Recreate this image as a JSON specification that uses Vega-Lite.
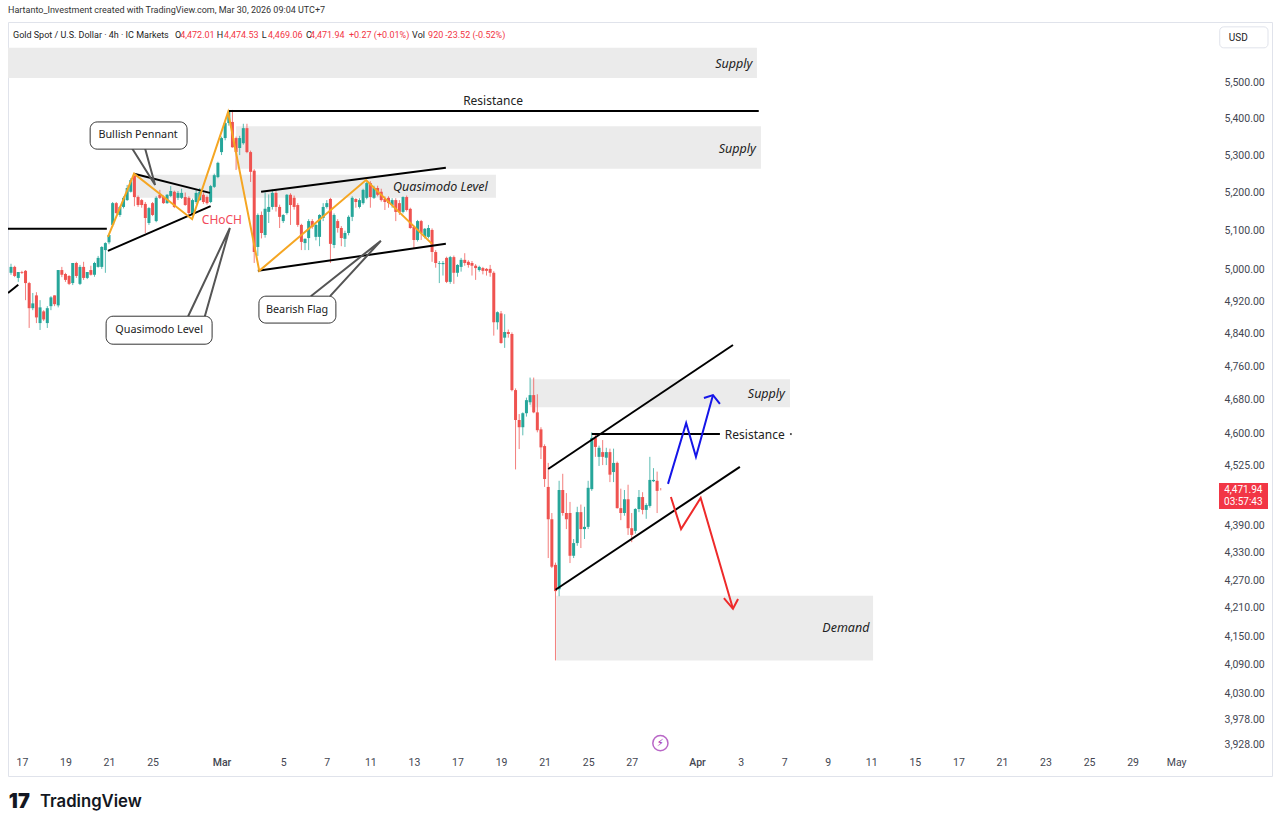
{
"$schema":"https://vega.github.io/schema/vega-lite/v6.json",
"width":1264,"height":754,
"autosize":"none",
"padding":{"left":8,"top":22,"right":8,"bottom":50},
"background":"white",
"config":{"view":{"stroke":"#e0e3eb"},"font":"Noto Sans"},
"title":{"text":"Hartanto_Investment created with TradingView.com, Mar 30, 2026 09:04 UTC+7","anchor":"start","frame":"group","fontSize":9,"fontWeight":"normal","font":"Roboto","color":"#333333","offset":7},
"datasets":{
"candles":[
{"t":0,"o":4992,"h":5015,"l":4987,"c":5007},{"t":1,"o":5007,"h":5010,"l":4981,"c":4984},{"t":2,"o":4979,"h":4994,"l":4969,"c":4994},{"t":3,"o":4994,"h":4997,"l":4989,"c":4992},
{"t":4,"o":4997,"h":4999,"l":4923,"c":4966},{"t":5,"o":4966,"h":4969,"l":4854,"c":4903},{"t":6,"o":4903,"h":4941,"l":4898,"c":4915},{"t":7,"o":4935,"h":4943,"l":4866,"c":4880},
{"t":8,"o":4866,"h":4923,"l":4849,"c":4905},{"t":9,"o":4895,"h":4898,"l":4871,"c":4875},{"t":10,"o":4866,"h":4908,"l":4854,"c":4903},{"t":11,"o":4908,"h":4933,"l":4898,"c":4930},
{"t":12,"o":4935,"h":4935,"l":4908,"c":4913},{"t":13,"o":4910,"h":4999,"l":4905,"c":4999},{"t":14,"o":4999,"h":5007,"l":4981,"c":4987},{"t":15,"o":4989,"h":4992,"l":4969,"c":4974},
{"t":16,"o":4984,"h":4986,"l":4961,"c":4964},{"t":17,"o":4966,"h":5017,"l":4961,"c":5017},{"t":18,"o":5017,"h":5020,"l":4979,"c":4984},{"t":19,"o":4964,"h":5012,"l":4961,"c":5007},
{"t":20,"o":5007,"h":5020,"l":4974,"c":4979},{"t":21,"o":4979,"h":4994,"l":4976,"c":4994},{"t":22,"o":4999,"h":5010,"l":4985,"c":4987},{"t":23,"o":4987,"h":5020,"l":4982,"c":5017},
{"t":24,"o":5007,"h":5035,"l":5005,"c":5030},{"t":25,"o":5007,"h":5060,"l":5002,"c":5058},{"t":26,"o":5050,"h":5070,"l":4992,"c":5068},{"t":27,"o":5070,"h":5092,"l":5065,"c":5089},
{"t":28,"o":5115,"h":5175,"l":5110,"c":5172},{"t":29,"o":5172,"h":5175,"l":5143,"c":5146},{"t":30,"o":5141,"h":5165,"l":5136,"c":5162},{"t":31,"o":5162,"h":5190,"l":5158,"c":5186},
{"t":32,"o":5180,"h":5220,"l":5178,"c":5212},{"t":33,"o":5202,"h":5238,"l":5200,"c":5233},{"t":34,"o":5244,"h":5246,"l":5164,"c":5188},{"t":35,"o":5188,"h":5192,"l":5162,"c":5167},
{"t":36,"o":5180,"h":5183,"l":5160,"c":5167},{"t":37,"o":5170,"h":5175,"l":5094,"c":5133},{"t":38,"o":5120,"h":5162,"l":5115,"c":5159},{"t":39,"o":5172,"h":5175,"l":5138,"c":5141},
{"t":40,"o":5125,"h":5190,"l":5122,"c":5186},{"t":41,"o":5194,"h":5207,"l":5183,"c":5186},{"t":42,"o":5188,"h":5192,"l":5170,"c":5172},{"t":43,"o":5172,"h":5196,"l":5170,"c":5194},
{"t":44,"o":5191,"h":5217,"l":5188,"c":5204},{"t":45,"o":5202,"h":5205,"l":5159,"c":5162},{"t":46,"o":5186,"h":5204,"l":5180,"c":5199},{"t":47,"o":5186,"h":5210,"l":5183,"c":5199},
{"t":48,"o":5188,"h":5200,"l":5165,"c":5167},{"t":49,"o":5186,"h":5190,"l":5136,"c":5146},{"t":50,"o":5141,"h":5184,"l":5128,"c":5180},{"t":51,"o":5175,"h":5207,"l":5170,"c":5199},
{"t":52,"o":5180,"h":5212,"l":5178,"c":5202},{"t":53,"o":5194,"h":5200,"l":5170,"c":5175},{"t":54,"o":5188,"h":5192,"l":5168,"c":5172},{"t":55,"o":5175,"h":5220,"l":5172,"c":5217},
{"t":56,"o":5215,"h":5250,"l":5212,"c":5246},{"t":57,"o":5241,"h":5282,"l":5238,"c":5279},{"t":58,"o":5308,"h":5350,"l":5300,"c":5346},{"t":59,"o":5346,"h":5390,"l":5340,"c":5387},
{"t":60,"o":5387,"h":5423,"l":5380,"c":5417},{"t":61,"o":5390,"h":5423,"l":5320,"c":5321},{"t":62,"o":5346,"h":5350,"l":5260,"c":5308},{"t":63,"o":5319,"h":5352,"l":5300,"c":5346},
{"t":64,"o":5332,"h":5385,"l":5328,"c":5373},{"t":65,"o":5373,"h":5385,"l":5305,"c":5308},{"t":66,"o":5308,"h":5312,"l":5228,"c":5255},{"t":67,"o":5258,"h":5262,"l":5017,"c":5045},
{"t":68,"o":5058,"h":5145,"l":5035,"c":5141},{"t":69,"o":5141,"h":5150,"l":5080,"c":5094},{"t":70,"o":5089,"h":5200,"l":5082,"c":5157},{"t":71,"o":5149,"h":5195,"l":5120,"c":5162},
{"t":72,"o":5162,"h":5208,"l":5155,"c":5199},{"t":73,"o":5199,"h":5205,"l":5150,"c":5162},{"t":74,"o":5162,"h":5168,"l":5107,"c":5136},{"t":75,"o":5125,"h":5143,"l":5120,"c":5141},
{"t":76,"o":5146,"h":5196,"l":5142,"c":5194},{"t":77,"o":5194,"h":5198,"l":5115,"c":5167},{"t":78,"o":5186,"h":5192,"l":5155,"c":5162},{"t":79,"o":5167,"h":5172,"l":5110,"c":5115},
{"t":80,"o":5115,"h":5118,"l":5050,"c":5071},{"t":81,"o":5068,"h":5080,"l":5050,"c":5079},{"t":82,"o":5081,"h":5130,"l":5050,"c":5125},{"t":83,"o":5125,"h":5130,"l":5105,"c":5110},
{"t":84,"o":5084,"h":5118,"l":5075,"c":5115},{"t":85,"o":5084,"h":5143,"l":5060,"c":5141},{"t":86,"o":5133,"h":5172,"l":5125,"c":5162},{"t":87,"o":5162,"h":5180,"l":5158,"c":5172},
{"t":88,"o":5183,"h":5186,"l":5017,"c":5066},{"t":89,"o":5063,"h":5145,"l":5055,"c":5141},{"t":90,"o":5125,"h":5130,"l":5095,"c":5107},{"t":91,"o":5107,"h":5112,"l":5060,"c":5081},
{"t":92,"o":5079,"h":5100,"l":5058,"c":5094},{"t":93,"o":5094,"h":5140,"l":5088,"c":5136},{"t":94,"o":5136,"h":5190,"l":5125,"c":5186},{"t":95,"o":5183,"h":5185,"l":5160,"c":5175},
{"t":96,"o":5162,"h":5185,"l":5158,"c":5180},{"t":97,"o":5172,"h":5210,"l":5168,"c":5207},{"t":98,"o":5186,"h":5228,"l":5182,"c":5225},{"t":99,"o":5225,"h":5230,"l":5160,"c":5188},
{"t":100,"o":5186,"h":5218,"l":5183,"c":5212},{"t":101,"o":5212,"h":5218,"l":5190,"c":5194},{"t":102,"o":5202,"h":5210,"l":5176,"c":5180},{"t":103,"o":5183,"h":5190,"l":5154,"c":5175},
{"t":104,"o":5186,"h":5190,"l":5160,"c":5172},{"t":105,"o":5167,"h":5185,"l":5160,"c":5180},{"t":106,"o":5180,"h":5185,"l":5125,"c":5149},{"t":107,"o":5172,"h":5180,"l":5141,"c":5149},
{"t":108,"o":5149,"h":5190,"l":5145,"c":5188},{"t":109,"o":5188,"h":5192,"l":5150,"c":5154},{"t":110,"o":5157,"h":5160,"l":5105,"c":5107},{"t":111,"o":5110,"h":5113,"l":5055,"c":5076},
{"t":112,"o":5076,"h":5128,"l":5072,"c":5125},{"t":113,"o":5125,"h":5128,"l":5076,"c":5094},{"t":114,"o":5084,"h":5107,"l":5080,"c":5105},{"t":115,"o":5084,"h":5115,"l":5080,"c":5107},
{"t":116,"o":5102,"h":5106,"l":5020,"c":5045},{"t":117,"o":5045,"h":5050,"l":5005,"c":5017},{"t":118,"o":5015,"h":5022,"l":4966,"c":5017},{"t":119,"o":5014,"h":5022,"l":4985,"c":5017},
{"t":120,"o":5030,"h":5033,"l":4966,"c":4969},{"t":121,"o":4969,"h":5035,"l":4964,"c":5032},{"t":122,"o":5032,"h":5036,"l":4964,"c":4992},{"t":123,"o":4992,"h":5014,"l":4982,"c":5012},
{"t":124,"o":5007,"h":5030,"l":4995,"c":5025},{"t":125,"o":5025,"h":5042,"l":5010,"c":5017},{"t":126,"o":5020,"h":5024,"l":5005,"c":5012},{"t":127,"o":5017,"h":5022,"l":4985,"c":5010},
{"t":128,"o":5010,"h":5014,"l":4974,"c":5004},{"t":129,"o":4999,"h":5010,"l":4995,"c":5007},{"t":130,"o":5004,"h":5007,"l":4988,"c":4997},{"t":131,"o":5002,"h":5004,"l":4985,"c":4997},
{"t":132,"o":5002,"h":5012,"l":4982,"c":4992},{"t":133,"o":4992,"h":4996,"l":4835,"c":4868},{"t":134,"o":4868,"h":4895,"l":4850,"c":4893},{"t":135,"o":4890,"h":4896,"l":4815,"c":4817},
{"t":136,"o":4830,"h":4888,"l":4805,"c":4844},{"t":137,"o":4844,"h":4850,"l":4830,"c":4839},{"t":138,"o":4839,"h":4843,"l":4700,"c":4703},{"t":139,"o":4703,"h":4707,"l":4517,"c":4632},
{"t":140,"o":4632,"h":4646,"l":4564,"c":4615},{"t":141,"o":4615,"h":4650,"l":4596,"c":4648},{"t":142,"o":4648,"h":4685,"l":4640,"c":4679},{"t":143,"o":4674,"h":4733,"l":4668,"c":4691},
{"t":144,"o":4691,"h":4733,"l":4648,"c":4650},{"t":145,"o":4650,"h":4693,"l":4603,"c":4608},{"t":146,"o":4610,"h":4615,"l":4541,"c":4568},{"t":147,"o":4571,"h":4575,"l":4477,"c":4495},
{"t":148,"o":4477,"h":4532,"l":4318,"c":4404},{"t":149,"o":4404,"h":4418,"l":4296,"c":4299},{"t":150,"o":4303,"h":4308,"l":4099,"c":4246},{"t":151,"o":4250,"h":4491,"l":4235,"c":4470},
{"t":152,"o":4470,"h":4507,"l":4412,"c":4418},{"t":153,"o":4418,"h":4463,"l":4382,"c":4404},{"t":154,"o":4418,"h":4443,"l":4307,"c":4323},{"t":155,"o":4323,"h":4360,"l":4318,"c":4351},
{"t":156,"o":4351,"h":4432,"l":4345,"c":4420},{"t":157,"o":4420,"h":4437,"l":4340,"c":4382},{"t":158,"o":4382,"h":4432,"l":4360,"c":4387},{"t":159,"o":4387,"h":4491,"l":4382,"c":4475},
{"t":160,"o":4472,"h":4603,"l":4468,"c":4590},{"t":161,"o":4590,"h":4597,"l":4546,"c":4569},{"t":162,"o":4546,"h":4572,"l":4525,"c":4567},{"t":163,"o":4557,"h":4585,"l":4527,"c":4546},
{"t":164,"o":4544,"h":4567,"l":4527,"c":4557},{"t":165,"o":4557,"h":4565,"l":4488,"c":4505},{"t":166,"o":4511,"h":4565,"l":4488,"c":4532},{"t":167,"o":4532,"h":4535,"l":4428,"c":4429},
{"t":168,"o":4429,"h":4473,"l":4402,"c":4418},{"t":169,"o":4418,"h":4470,"l":4412,"c":4449},{"t":170,"o":4449,"h":4482,"l":4369,"c":4384},{"t":171,"o":4384,"h":4418,"l":4353,"c":4369},
{"t":172,"o":4378,"h":4429,"l":4372,"c":4427},{"t":173,"o":4427,"h":4470,"l":4420,"c":4454},{"t":174,"o":4454,"h":4465,"l":4415,"c":4425},{"t":175,"o":4425,"h":4440,"l":4405,"c":4436},
{"t":176,"o":4434,"h":4546,"l":4430,"c":4493},{"t":177,"o":4490,"h":4520,"l":4488,"c":4493},{"t":178,"o":4491,"h":4512,"l":4418,"c":4468},{"t":179,"o":4472.01,"h":4474.53,"l":4469.06,"c":4471.94}
],
"zones":[
{"t1":-0.83,"t2":205.5,"p1":5597,"p2":5512},
{"t1":62,"t2":206.6,"p1":5378,"p2":5263},
{"t1":34,"t2":133.6,"p1":5247,"p2":5186},
{"t1":143,"t2":214.6,"p1":4729,"p2":4662},
{"t1":150.2,"t2":237.5,"p1":4236,"p2":4099}
],
"lines":[
{"id":"l1","kind":"level","n":1,"t":-0.83,"p":5105},{"id":"l1","kind":"level","n":2,"t":26.4,"p":5105},
{"id":"l2","kind":"level","n":1,"t":-0.83,"p":4941},{"id":"l2","kind":"level","n":2,"t":2,"p":4962},
{"id":"l3","kind":"level","n":1,"t":60,"p":5420},{"id":"l3","kind":"level","n":2,"t":206,"p":5420},
{"id":"l4","kind":"level","n":1,"t":33.9,"p":5250},{"id":"l4","kind":"level","n":2,"t":54.8,"p":5199},
{"id":"l5","kind":"level","n":1,"t":26.7,"p":5048},{"id":"l5","kind":"level","n":2,"t":55,"p":5164},
{"id":"l6","kind":"level","n":1,"t":68.9,"p":5202},{"id":"l6","kind":"level","n":2,"t":119.8,"p":5266},
{"id":"l7","kind":"level","n":1,"t":68,"p":4997},{"id":"l7","kind":"level","n":2,"t":119.8,"p":5066},
{"id":"l8","kind":"level","n":1,"t":148,"p":4518},{"id":"l8","kind":"level","n":2,"t":198.9,"p":4812},
{"id":"l9","kind":"level","n":1,"t":150,"p":4249},{"id":"l9","kind":"level","n":2,"t":200.8,"p":4523},
{"id":"l10","kind":"level","n":1,"t":160,"p":4599},{"id":"l10","kind":"level","n":2,"t":195.3,"p":4599},
{"id":"l11","kind":"pointer","n":1,"t":214.6,"p":4599},{"id":"l11","kind":"pointer","n":2,"t":215.1,"p":4599},
{"id":"z","kind":"zigzag","n":1,"t":26.7,"p":5084},{"id":"z","kind":"zigzag","n":2,"t":33.9,"p":5250},{"id":"z","kind":"zigzag","n":3,"t":49.9,"p":5130},{"id":"z","kind":"zigzag","n":4,"t":59.8,"p":5417},{"id":"z","kind":"zigzag","n":5,"t":68.4,"p":4997},{"id":"z","kind":"zigzag","n":6,"t":97.8,"p":5233},{"id":"z","kind":"zigzag","n":7,"t":116,"p":5066},
{"id":"c1","kind":"pointer","n":1,"t":33.3,"p":5319},{"id":"c1","kind":"pointer","n":2,"t":39.7,"p":5220},{"id":"c1","kind":"pointer","n":3,"t":36.9,"p":5319},
{"id":"c2","kind":"pointer","n":1,"t":48.8,"p":4883},{"id":"c2","kind":"pointer","n":2,"t":60.3,"p":5107},{"id":"c2","kind":"pointer","n":3,"t":53.4,"p":4883},
{"id":"c3","kind":"pointer","n":1,"t":82.6,"p":4933},{"id":"c3","kind":"pointer","n":2,"t":101.9,"p":5074},{"id":"c3","kind":"pointer","n":3,"t":87.9,"p":4933},
{"id":"b","kind":"up","n":1,"t":181,"p":4484},{"id":"b","kind":"up","n":2,"t":186,"p":4625},{"id":"b","kind":"up","n":3,"t":188.7,"p":4546},{"id":"b","kind":"up","n":4,"t":193.4,"p":4691},
{"id":"bh","kind":"up","n":1,"t":190.9,"p":4684},{"id":"bh","kind":"up","n":2,"t":193.4,"p":4691},{"id":"bh","kind":"up","n":3,"t":195.3,"p":4670},
{"id":"r","kind":"down","n":1,"t":181.8,"p":4454},{"id":"r","kind":"down","n":2,"t":184.6,"p":4382},{"id":"r","kind":"down","n":3,"t":190,"p":4452},{"id":"r","kind":"down","n":4,"t":198.9,"p":4208},
{"id":"rh","kind":"down","n":1,"t":196.4,"p":4231},{"id":"rh","kind":"down","n":2,"t":198.9,"p":4208},{"id":"rh","kind":"down","n":3,"t":200.3,"p":4229}
],
"boxes":[
{"t1":21.8,"t2":48.5,"p1":5390,"p2":5316},
{"t1":26.2,"t2":55.4,"p1":4883,"p2":4814},
{"t1":68.3,"t2":89.5,"p1":4933,"p2":4866}
],
"labels":[
{"t":199.1,"p":5552,"label":"Supply","kind":"italic"},
{"t":200.1,"p":5319,"label":"Supply","kind":"italic"},
{"t":118.3,"p":5215,"label":"Quasimodo Level","kind":"italic"},
{"t":208.1,"p":4696,"label":"Supply","kind":"italic"},
{"t":230,"p":4168,"label":"Demand","kind":"italic"},
{"t":132.8,"p":5451,"label":"Resistance","kind":"plain"},
{"t":204.9,"p":4599,"label":"Resistance","kind":"plain"},
{"t":35,"p":5357,"label":"Bullish Pennant","kind":"small"},
{"t":40.8,"p":4851,"label":"Quasimodo Level","kind":"small"},
{"t":78.8,"p":4900,"label":"Bearish Flag","kind":"small"},
{"t":58.1,"p":5130,"label":"CHoCH","kind":"choch"}
],
"legendText":[
{"t":0.55,"p":5633,"label":"Gold Spot / U.S. Dollar · 4h · IC Markets","kind":"name"},
{"t":45.2,"p":5633,"label":"O","kind":"name"},
{"t":46.6,"p":5633,"label":"4,472.01","kind":"value"},
{"t":56.7,"p":5633,"label":"H","kind":"name"},
{"t":58.7,"p":5633,"label":"4,474.53","kind":"value"},
{"t":69.1,"p":5633,"label":"L","kind":"name"},
{"t":70.8,"p":5633,"label":"4,469.06","kind":"value"},
{"t":81.3,"p":5633,"label":"C","kind":"name"},
{"t":82.4,"p":5633,"label":"4,471.94","kind":"value"},
{"t":93.1,"p":5633,"label":"+0.27 (+0.01%)","kind":"value"},
{"t":110.5,"p":5633,"label":"Vol","kind":"name"},
{"t":114.9,"p":5633,"label":"920","kind":"value"},
{"t":119.6,"p":5633,"label":"-23.52 (-0.52%)","kind":"value"}
]
},
"encoding":{
"x":{"field":"t","type":"quantitative","title":null,
"scale":{"domain":[-0.83,347.4],"nice":false,"zero":false,"padding":0},
"axis":{"orient":"bottom","offset":-24,"grid":false,"domain":false,"ticks":false,"labelPadding":5,"labelFontSize":10.5,"labelColor":"#434651","labelFont":"Roboto",
"values":[3,15,27,39,58,75,87,99,111,123,135,147,159,171,189,201,213,225,237,249,261,273,285,297,309,321],
"labelExpr":"{'3':'17','15':'19','27':'21','39':'25','58':'Mar','75':'5','87':'7','99':'11','111':'13','123':'17','135':'19','147':'21','159':'25','171':'27','189':'Apr','201':'3','213':'7','225':'9','237':'11','249':'15','261':'17','273':'21','285':'23','297':'25','309':'29','321':'May'}[datum.value+'']",
"labelFontWeight":{"expr":"datum.value==58||datum.value==189?500:400"}}},
"y":{"type":"quantitative","title":null,
"scale":{"type":"log","domain":[3865,5671],"nice":false,"zero":false},
"axis":{"orient":"right","offset":-56,"grid":false,"domain":false,"ticks":false,"labelPadding":8,"labelFontSize":10.5,"labelColor":"#434651","labelFont":"Roboto","format":",.2f",
"values":[5500,5400,5300,5200,5100,5000,4920,4840,4760,4680,4600,4525,4390,4330,4270,4210,4150,4090,4030,3978,3928]}}
},
"layer":[
{"data":{"name":"zones"},"mark":{"type":"rect","color":"#ebebeb"},
 "encoding":{"x":{"field":"t1","type":"quantitative"},"x2":{"field":"t2"},"y":{"field":"p1","type":"quantitative"},"y2":{"field":"p2"}}},
{"data":{"name":"candles"},"mark":{"type":"rule","strokeWidth":1,"opacity":0.75},
 "encoding":{"y":{"field":"l","type":"quantitative"},"y2":{"field":"h"},
 "color":{"condition":{"test":"datum.c>=datum.o","value":"#26a69a"},"value":"#ef5350"}}},
{"data":{"name":"candles"},"mark":{"type":"bar","orient":"vertical","size":3},
 "encoding":{"y":{"field":"o","type":"quantitative"},"y2":{"field":"c"},
 "color":{"condition":{"test":"datum.c>=datum.o","value":"#26a69a"},"value":"#ef5350"}}},
{"data":{"name":"lines"},"mark":{"type":"line","clip":true},
 "encoding":{"y":{"field":"p","type":"quantitative"},"detail":{"field":"id"},"order":{"field":"n"},
 "color":{"field":"kind","legend":null,"scale":{"domain":["level","zigzag","pointer","up","down"],"range":["#000000","#f5a623","#555555","#1515e8","#ee2a2a"]}},
 "strokeWidth":{"field":"kind","legend":null,"scale":{"domain":["level","zigzag","pointer","up","down"],"range":[2,2,1,2,2]}}}},
{"data":{"name":"boxes"},"mark":{"type":"rect","fill":"white","stroke":"#333333","strokeWidth":1,"cornerRadius":7},
 "encoding":{"x":{"field":"t1","type":"quantitative"},"x2":{"field":"t2"},"y":{"field":"p1","type":"quantitative"},"y2":{"field":"p2"}}},
{"data":{"name":"labels"},"transform":[{"filter":"datum.kind=='italic'"}],"mark":{"type":"text","fontStyle":"italic","fontSize":12.5,"color":"#222222","dy":0.5},
 "encoding":{"y":{"field":"p","type":"quantitative"},"text":{"field":"label"}}},
{"data":{"name":"labels"},"transform":[{"filter":"datum.kind=='plain'"}],"mark":{"type":"text","fontSize":12,"color":"#222222","dy":1},
 "encoding":{"y":{"field":"p","type":"quantitative"},"text":{"field":"label"}}},
{"data":{"name":"labels"},"transform":[{"filter":"datum.kind=='small'"}],"mark":{"type":"text","fontSize":10.8,"color":"#222222","dy":1},
 "encoding":{"y":{"field":"p","type":"quantitative"},"text":{"field":"label"}}},
{"data":{"name":"labels"},"transform":[{"filter":"datum.kind=='choch'"}],"mark":{"type":"text","fontSize":12,"color":"#f2495a","dy":1},
 "encoding":{"y":{"field":"p","type":"quantitative"},"text":{"field":"label"}}},
{"data":{"values":[{"t1":333,"t2":346.3,"p1":5657,"p2":5597}]},"mark":{"type":"rect","fill":"white","stroke":"#e0e3eb","cornerRadius":4},
 "encoding":{"x":{"field":"t1","type":"quantitative"},"x2":{"field":"t2"},"y":{"field":"p1","type":"quantitative"},"y2":{"field":"p2"}}},
{"data":{"values":[{"t":335.5,"p":5626,"label":"USD"}]},"mark":{"type":"text","align":"left","fontSize":10,"font":"Roboto","color":"#222222"},
 "encoding":{"y":{"field":"p","type":"quantitative"},"text":{"field":"label"}}},
{"data":{"name":"legendText"},"mark":{"type":"text","align":"left","fontSize":9,"font":"Roboto","clip":false},
 "encoding":{"y":{"field":"p","type":"quantitative"},"text":{"field":"label"},
 "color":{"condition":{"test":"datum.kind=='value'","value":"#f23645"},"value":"#222222"}}},
{"data":{"values":[{"t1":332.8,"t2":346.3,"p1":4486,"p2":4427}]},"mark":{"type":"rect","fill":"#f23645"},
 "encoding":{"x":{"field":"t1","type":"quantitative"},"x2":{"field":"t2"},"y":{"field":"p1","type":"quantitative"},"y2":{"field":"p2"}}},
{"data":{"values":[{"t":339.5,"p":4470,"label":"4,471.94"},{"t":339.5,"p":4443,"label":"03:57:43"}]},"mark":{"type":"text","fontSize":10,"font":"Roboto","color":"white"},
 "encoding":{"y":{"field":"p","type":"quantitative"},"text":{"field":"label"}}},
{"data":{"values":[{"t":178.9,"p":3930}]},"mark":{"type":"point","shape":"circle","size":230,"stroke":"#9c27b0","strokeWidth":1.5,"fill":"white","filled":false},
 "encoding":{"y":{"field":"p","type":"quantitative"}}},
{"data":{"values":[{"t":178.9,"p":3930,"label":"⚡"}]},"mark":{"type":"text","fontSize":10,"color":"#9c27b0","font":"DejaVu Sans"},
 "encoding":{"y":{"field":"p","type":"quantitative"},"text":{"field":"label"}}},
{"data":{"values":[{"t":-0.6,"p":3814,"label":"17"}]},"mark":{"type":"text","align":"left","fontSize":20,"fontWeight":900,"font":"Inter","color":"#131722","clip":false},
 "encoding":{"y":{"field":"p","type":"quantitative"},"text":{"field":"label"}}},
{"data":{"values":[{"t":8,"p":3814,"label":"TradingView"}]},"mark":{"type":"text","align":"left","fontSize":16.7,"fontWeight":600,"font":"Inter","color":"#131722","clip":false},
 "encoding":{"y":{"field":"p","type":"quantitative"},"text":{"field":"label"}}}
]
}
